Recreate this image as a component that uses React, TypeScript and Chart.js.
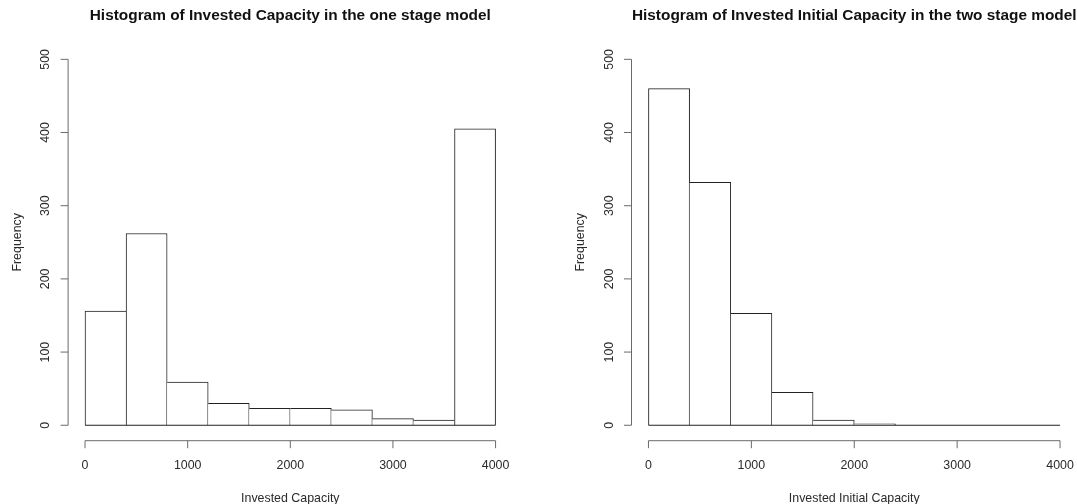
import React, { useEffect, useRef } from "react";
import { Chart, registerables } from "chart.js";

Chart.register(...registerables);

// ---- data ----
const binEdges = [0, 400, 800, 1200, 1600, 2000, 2400, 2800, 3200, 3600, 4000];
const oneStageCounts = [156, 262, 59, 30, 23, 23, 21, 9, 7, 405];
const twoStageCounts = [460, 332, 153, 45, 7, 2, 0, 0, 0, 0];
const xTicks = [0, 1000, 2000, 3000, 4000];
const yTicks = [0, 100, 200, 300, 400, 500];
const oneStageTitle = "Histogram of Invested Capacity in the one stage model";
const twoStageTitle = "Histogram of Invested Initial Capacity in the two stage model";
const oneStageXLabel = "Invested Capacity";
const twoStageXLabel = "Invested Initial Capacity";
const yAxisLabel = "Frequency";

const FONT = '"Liberation Sans", Arial, Helvetica, sans-serif';

const rStylePlugin = {
  id: "rStyle",
  afterDraw(chart: any, _args: any, opts: any) {
    const { ctx, chartArea, scales } = chart;
    const x = scales.x;
    const y = scales.y;
    const left = chartArea.left;
    const bottom = chartArea.bottom;
    const cx = (chartArea.left + chartArea.right) / 2;
    const cy = (chartArea.top + chartArea.bottom) / 2;
    ctx.save();

    // histogram baseline (bottom edges of all bars)
    ctx.strokeStyle = "#222";
    ctx.lineWidth = 1;
    const y0 = y.getPixelForValue(0);
    ctx.beginPath();
    ctx.moveTo(x.getPixelForValue(binEdges[0]), y0);
    ctx.lineTo(x.getPixelForValue(binEdges[binEdges.length - 1]), y0);
    ctx.stroke();

    // x axis
    ctx.strokeStyle = "#6a6a6a";
    ctx.lineWidth = 1;
    const axY = bottom + 0.8;
    ctx.beginPath();
    ctx.moveTo(x.getPixelForValue(xTicks[0]), axY);
    ctx.lineTo(x.getPixelForValue(xTicks[xTicks.length - 1]), axY);
    for (const t of xTicks) {
      const px = x.getPixelForValue(t);
      ctx.moveTo(px, axY);
      ctx.lineTo(px, axY + 7.5);
    }
    ctx.stroke();

    // y axis
    const axX = left - 0.5;
    ctx.beginPath();
    ctx.moveTo(axX, y.getPixelForValue(yTicks[0]));
    ctx.lineTo(axX, y.getPixelForValue(yTicks[yTicks.length - 1]));
    for (const t of yTicks) {
      const py = y.getPixelForValue(t);
      ctx.moveTo(axX, py);
      ctx.lineTo(axX - 7.5, py);
    }
    ctx.stroke();

    // x tick labels
    ctx.fillStyle = "#2a2a2a";
    ctx.font = `12.4px ${FONT}`;
    ctx.textAlign = "center";
    ctx.textBaseline = "alphabetic";
    for (const t of xTicks) {
      ctx.fillText(String(t), x.getPixelForValue(t), bottom + 29);
    }

    // y tick labels (rotated)
    for (const t of yTicks) {
      ctx.save();
      ctx.translate(axX - 19, y.getPixelForValue(t));
      ctx.rotate(-Math.PI / 2);
      ctx.textAlign = "center";
      ctx.textBaseline = "alphabetic";
      ctx.fillText(String(t), 0, 0);
      ctx.restore();
    }

    // x axis title
    ctx.fillText(opts.xLabel, cx, bottom + 62);

    // y axis title
    ctx.save();
    ctx.translate(axX - 47.5, cy);
    ctx.rotate(-Math.PI / 2);
    ctx.textAlign = "center";
    ctx.textBaseline = "alphabetic";
    ctx.fillText(yAxisLabel, 0, 0);
    ctx.restore();

    // main title
    ctx.fillStyle = "#111";
    ctx.font = `bold 15.4px ${FONT}`;
    ctx.textAlign = "center";
    ctx.fillText(opts.title, cx, 19.5);

    ctx.restore();
  },
};

function makeConfig(counts: number[], title: string, xLabel: string, padding: any) {
  const data = counts.map((c, i) => ({ x: (binEdges[i] + binEdges[i + 1]) / 2, y: c }));
  return {
    type: "bar",
    data: {
      datasets: [
        {
          data,
          backgroundColor: "#ffffff",
          borderColor: "#222222",
          borderSkipped: false,
          barPercentage: 1,
          categoryPercentage: 1,
          borderWidth: (ctx: any) => {
            const i = ctx.dataIndex;
            if (i === undefined) return 1;
            const l = i === 0 || counts[i] > counts[i - 1] ? 1 : 0;
            const r = i === counts.length - 1 || counts[i] >= counts[i + 1] ? 1 : 0;
            return { top: 1, bottom: 0, left: l, right: r };
          },
        },
      ],
    },
    options: {
      animation: false,
      responsive: false,
      devicePixelRatio: 1,
      layout: { padding },
      plugins: {
        legend: { display: false },
        tooltip: { enabled: false },
        title: { display: false },
        rStyle: { title, xLabel },
      },
      scales: {
        x: { type: "linear", min: -160, max: 4160, display: false, offset: false },
        y: { type: "linear", min: -20, max: 520, display: false },
      },
    },
    plugins: [rStylePlugin],
  } as any;
}

function Panel(props: { counts: number[]; title: string; xLabel: string; width: number; padding: any; left: number }) {
  const ref = useRef<HTMLCanvasElement>(null);
  useEffect(() => {
    if (!ref.current) return;
    const chart = new Chart(ref.current, makeConfig(props.counts, props.title, props.xLabel, props.padding));
    return () => chart.destroy();
  }, []);
  return (
    <canvas
      ref={ref}
      width={props.width}
      height={504}
      style={{ position: "absolute", left: props.left, top: 0, width: props.width, height: 504 }}
    />
  );
}

export default function App() {
  return (
    <div style={{ position: "fixed", left: 0, top: 0, width: 1077, height: 504, background: "#fff", overflow: "hidden" }}>
      <Panel
        counts={oneStageCounts}
        title={oneStageTitle}
        xLabel={oneStageXLabel}
        width={538}
        left={0}
        padding={{ left: 68.6, right: 26, top: 44.7, bottom: 64.1 }}
      />
      <Panel
        counts={twoStageCounts}
        title={twoStageTitle}
        xLabel={twoStageXLabel}
        width={539}
        left={538}
        padding={{ left: 94, right: 0.5, top: 44.7, bottom: 64.1 }}
      />
    </div>
  );
}
